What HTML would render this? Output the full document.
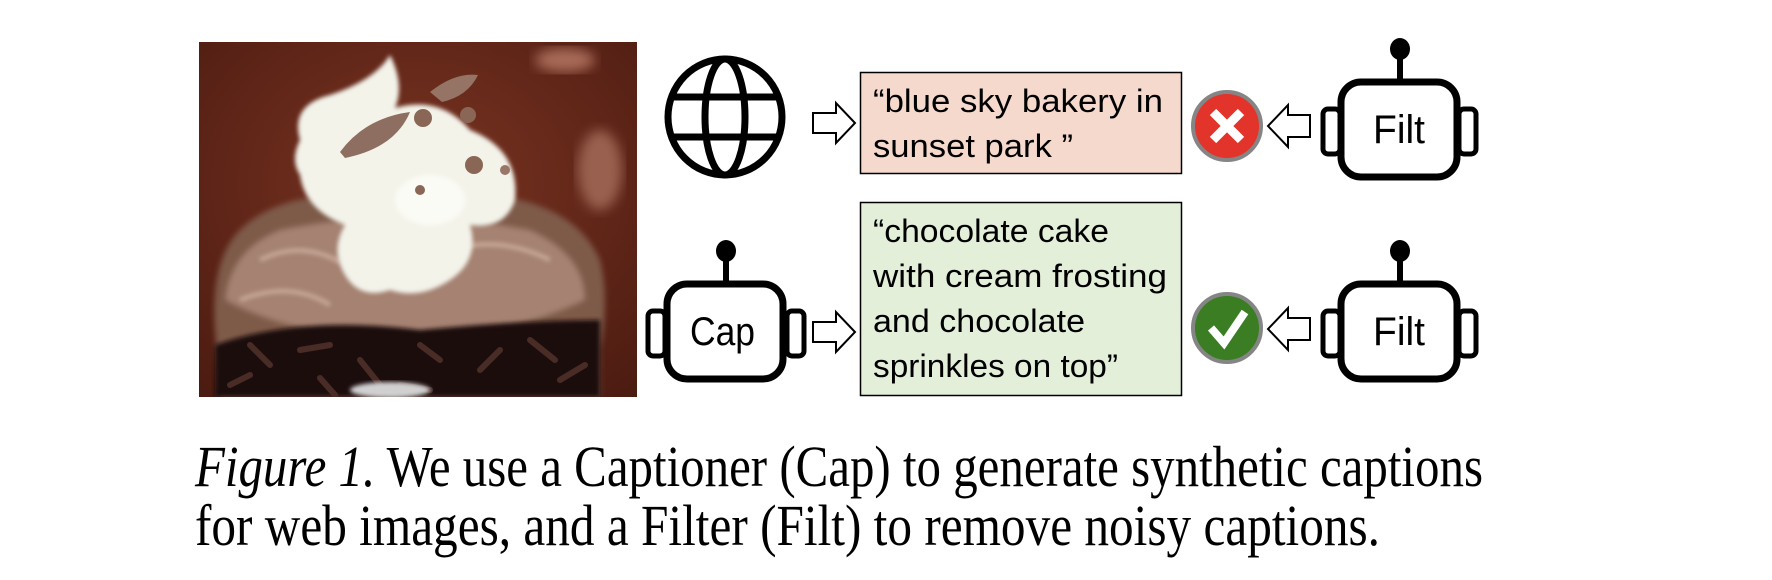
<!DOCTYPE html>
<html><head><meta charset="utf-8"><style>
html,body{margin:0;padding:0;background:#fff;}
svg{display:block;}
</style></head><body>
<svg width="1772" height="580" viewBox="0 0 1772 580" xmlns="http://www.w3.org/2000/svg">
<defs>
<clipPath id="ph"><rect x="199" y="42" width="438" height="355"/></clipPath>
<filter id="b6"><feGaussianBlur stdDeviation="6"/></filter>
<filter id="b3"><feGaussianBlur stdDeviation="3"/></filter>
<filter id="b2"><feGaussianBlur stdDeviation="2"/></filter>
<radialGradient id="bg" cx="0.5" cy="0.4" r="0.8"><stop offset="0" stop-color="#7a3422"/><stop offset="1" stop-color="#4a1a10"/></radialGradient>
</defs>
<!-- photo -->
<g clip-path="url(#ph)">
<rect x="199" y="42" width="438" height="355" fill="url(#bg)"/>
<ellipse cx="565" cy="60" rx="30" ry="12" fill="#a86a58" filter="url(#b6)"/>
<ellipse cx="600" cy="170" rx="22" ry="40" fill="#9a6050" filter="url(#b6)"/>
<path d="M215 330 Q210 260 240 230 Q270 200 330 195 Q430 185 520 200 Q580 215 600 260 Q610 300 600 350 L600 397 L220 397 Z" fill="#7e5a4a" filter="url(#b3)"/>
<path d="M225 300 Q230 250 280 230 Q400 205 530 230 Q585 255 585 300 Q500 340 400 335 Q300 340 225 300Z" fill="#a58272" filter="url(#b3)"/>
<path d="M260 260 Q300 240 340 262 M450 250 Q500 235 550 260 M240 300 Q290 280 330 305" stroke="#c4a494" stroke-width="5" fill="none" filter="url(#b2)"/>
<path d="M215 345 Q300 315 420 330 Q530 320 600 320 L600 397 L215 397 Z" fill="#1e0f0c" filter="url(#b2)"/>
<g stroke="#4a2c26" stroke-width="6" stroke-linecap="round">
<line x1="250" y1="345" x2="270" y2="365"/><line x1="300" y1="350" x2="330" y2="345"/><line x1="360" y1="360" x2="380" y2="385"/><line x1="420" y1="345" x2="440" y2="360"/><line x1="480" y1="370" x2="500" y2="350"/><line x1="530" y1="340" x2="555" y2="360"/><line x1="400" y1="385" x2="430" y2="390"/><line x1="320" y1="378" x2="335" y2="395"/><line x1="560" y1="380" x2="585" y2="365"/><line x1="230" y1="385" x2="250" y2="375"/></g>
<ellipse cx="390" cy="390" rx="40" ry="8" fill="#d0d0d0" filter="url(#b2)"/>
<path d="M300 140 Q290 105 330 95 Q375 80 390 55 Q405 85 395 108 Q440 95 470 130 Q520 150 515 200 Q505 230 470 225 Q480 260 450 280 Q420 300 390 290 Q360 300 345 275 Q330 250 345 225 Q305 210 300 175 Q290 160 300 140Z" fill="#f3f3ea" filter="url(#b2)"/>
<ellipse cx="430" cy="200" rx="35" ry="25" fill="#fbfbf5" filter="url(#b2)"/>
<path d="M340 152 Q365 118 410 112 Q395 148 345 158Z" fill="#8e6e60"/>
<path d="M430 92 Q455 72 478 75 Q468 96 442 102Z" fill="#957465"/>
<circle cx="423" cy="118" r="9" fill="#8a6656"/><circle cx="468" cy="115" r="8" fill="#8a6656"/><circle cx="474" cy="165" r="9" fill="#8a6656"/><circle cx="420" cy="190" r="5" fill="#8a6656"/><circle cx="505" cy="170" r="5" fill="#9a7668"/>
</g>
<!-- globe -->
<g fill="none" stroke="#000" stroke-width="7">
<ellipse cx="725" cy="117" rx="57" ry="58"/>
<ellipse cx="725" cy="117" rx="20" ry="58"/>
<line x1="670" y1="97" x2="780" y2="97"/>
<line x1="670" y1="137" x2="780" y2="137"/>
</g>
<!-- arrows -->
<g fill="#fff" stroke="#000" stroke-width="2">
<path d="M813 113 L836 113 L836 103 L855 123 L836 143 L836 133 L813 133 Z"/>
<path d="M813 322 L836 322 L836 312 L855 332 L836 352 L836 342 L813 342 Z"/>
<path d="M1310 115 L1288 115 L1288 105 L1268 126 L1288 147 L1288 137 L1310 137 Z"/>
<path d="M1310 318 L1288 318 L1288 308 L1268 329 L1288 350 L1288 340 L1310 340 Z"/>
</g>
<!-- boxes -->
<rect x="860.5" y="72.5" width="321" height="101" fill="#f4d9cc" stroke="#000" stroke-width="1.5"/>
<rect x="860.5" y="202.5" width="321" height="193" fill="#e3efd9" stroke="#000" stroke-width="1.5"/>
<g font-family="'Liberation Sans', sans-serif" font-size="32" fill="#000">
<text x="873" y="112" textLength="290" lengthAdjust="spacingAndGlyphs">“blue sky bakery in</text>
<text x="873" y="157" textLength="200" lengthAdjust="spacingAndGlyphs">sunset park ”</text>
<text x="873" y="242" textLength="236" lengthAdjust="spacingAndGlyphs">“chocolate cake</text>
<text x="873" y="287" textLength="294" lengthAdjust="spacingAndGlyphs">with cream frosting</text>
<text x="873" y="332" textLength="212" lengthAdjust="spacingAndGlyphs">and chocolate</text>
<text x="873" y="377" textLength="245" lengthAdjust="spacingAndGlyphs">sprinkles on top”</text>
</g>
<!-- status circles -->
<circle cx="1227" cy="126" r="34" fill="#e2342a" stroke="#858585" stroke-width="4"/>
<g stroke="#fff" stroke-width="9"><line x1="1213" y1="112" x2="1241" y2="140"/><line x1="1241" y1="112" x2="1213" y2="140"/></g>
<circle cx="1227" cy="328" r="34" fill="#3a7d22" stroke="#858585" stroke-width="4"/>
<path d="M1211 328 L1224 343 L1245 312" fill="none" stroke="#fff" stroke-width="8"/>
<!-- robots -->
<g fill="none" stroke="#000">
<rect x="1341" y="82" width="116" height="95" rx="20" stroke-width="7" fill="#fff"/>
<rect x="1323" y="109" width="17" height="45" rx="5" stroke-width="5"/>
<rect x="1459" y="109" width="17" height="45" rx="5" stroke-width="5"/>
<line x1="1400" y1="56" x2="1400" y2="80" stroke-width="6"/>
<ellipse cx="1400" cy="49" rx="10" ry="11" fill="#000" stroke="none"/>
</g>
<g transform="translate(0,202)">
<rect x="1341" y="82" width="116" height="95" rx="20" stroke-width="7" fill="#fff" stroke="#000"/>
<rect x="1323" y="109" width="17" height="45" rx="5" stroke-width="5" fill="none" stroke="#000"/>
<rect x="1459" y="109" width="17" height="45" rx="5" stroke-width="5" fill="none" stroke="#000"/>
<line x1="1400" y1="56" x2="1400" y2="80" stroke-width="6" stroke="#000"/>
<ellipse cx="1400" cy="49" rx="10" ry="11" fill="#000"/>
</g>
<g transform="translate(-674,202)">
<rect x="1341" y="82" width="116" height="95" rx="20" stroke-width="7" fill="#fff" stroke="#000"/>
<rect x="1322" y="109" width="17" height="45" rx="5" stroke-width="5" fill="none" stroke="#000"/>
<rect x="1461" y="109" width="17" height="45" rx="5" stroke-width="5" fill="none" stroke="#000"/>
<line x1="1400" y1="56" x2="1400" y2="80" stroke-width="6" stroke="#000"/>
<ellipse cx="1400" cy="49" rx="10" ry="11" fill="#000"/>
</g>
<g font-family="'Liberation Sans', sans-serif" font-size="40" fill="#000">
<text x="1373" y="143" textLength="52" lengthAdjust="spacingAndGlyphs">Filt</text>
<text x="1373" y="345" textLength="52" lengthAdjust="spacingAndGlyphs">Filt</text>
<text x="690" y="345" textLength="65" lengthAdjust="spacingAndGlyphs">Cap</text>
</g>
<!-- caption -->
<g font-family="'Liberation Serif', serif" font-size="58" fill="#000">
<text x="195" y="486" textLength="1288" lengthAdjust="spacingAndGlyphs"><tspan font-style="italic">Figure 1.</tspan> We use a Captioner (Cap) to generate synthetic captions</text>
<text x="195" y="545" textLength="1185" lengthAdjust="spacingAndGlyphs">for web images, and a Filter (Filt) to remove noisy captions.</text>
</g>
</svg>
</body></html>
